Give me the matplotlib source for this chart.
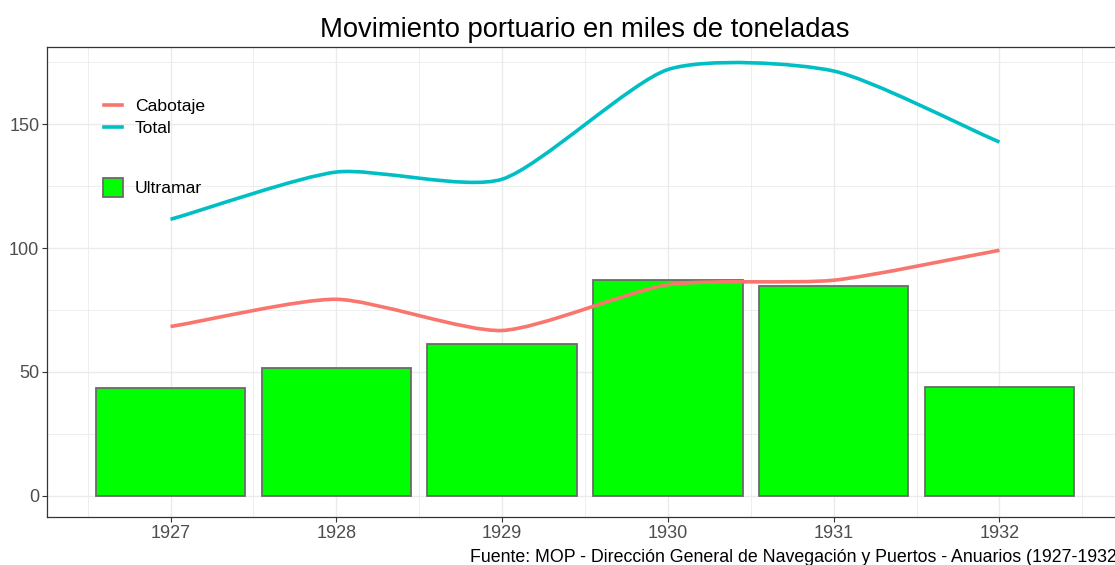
import matplotlib
matplotlib.use("Agg")
import matplotlib.pyplot as plt
from matplotlib.path import Path
from matplotlib.patches import PathPatch, Patch
from matplotlib.lines import Line2D
import numpy as np

plt.rcParams['font.family'] = ['Liberation Sans', 'DejaVu Sans']

# datos (miles de toneladas)
anios = [1927, 1928, 1929, 1930, 1931, 1932]
ultramar = [43.3, 51.4, 61.1, 86.9, 84.5, 43.7]
cabotaje = [68.3, 79.3, 66.7, 85.2, 87.0, 99.1]
total = [111.6, 130.7, 127.8, 172.1, 171.5, 142.8]

col_cab = '#F8766D'
col_tot = '#00BFC4'
W, H = 1115, 565


def curva(ax, xs, ys, color):
    # curva suave por los puntos (Bezier tipo Catmull-Rom, poca tension)
    pts = np.column_stack([np.asarray(xs, float), np.asarray(ys, float)])
    ext = np.vstack([2 * pts[0] - pts[1], pts, 2 * pts[-1] - pts[-2]])
    verts = [tuple(pts[0])]
    codes = [Path.MOVETO]
    for i in range(1, len(ext) - 2):
        p0, p1, p2, p3 = ext[i - 1], ext[i], ext[i + 1], ext[i + 2]
        c1 = p1 + (p2 - p0) / 9
        c2 = p2 - (p3 - p1) / 9
        verts += [tuple(c1), tuple(c2), tuple(p2)]
        codes += [Path.CURVE4] * 3
    ax.add_patch(PathPatch(Path(verts, codes), facecolor='none', edgecolor=color,
                           lw=2.6, capstyle='butt', zorder=4))


fig = plt.figure(figsize=(W / 100, H / 100), dpi=100)
ax = fig.add_axes([47 / W, 48 / H, 1076 / W, 470 / H])

ax.bar(anios, ultramar, width=0.9, color='#00FF00', edgecolor='#6B6B6B', linewidth=1.3, zorder=3)
curva(ax, anios, cabotaje, col_cab)
curva(ax, anios, total, col_tot)

ax.set_xlim(1926.255, 1932.745)
ax.set_ylim(-8.63, 181.2)
ax.set_xticks(anios)
ax.set_xticklabels([str(a) for a in anios])
ax.set_yticks([0, 50, 100, 150])
ax.set_xticks(np.arange(1926.5, 1933, 1.0), minor=True)
ax.set_yticks([25, 75, 125, 175], minor=True)
ax.grid(True, which='major', color='#EBEBEB', lw=1.0, zorder=0)
ax.grid(True, which='minor', color='#EBEBEB', lw=0.6, zorder=0)
ax.set_axisbelow(True)
ax.tick_params(which='major', length=3.5, width=0.8, color='#333333', labelsize=13,
               labelcolor='#4D4D4D', pad=2)
ax.tick_params(which='minor', length=0)
for s in ax.spines.values():
    s.set_color('#333333')
    s.set_linewidth(0.9)

ax.set_title('Movimiento portuario en miles de toneladas', fontsize=19.7, pad=7)

fig.text(1123 / W, 3 / H, 'Fuente: MOP - Dirección General de Navegación y Puertos - Anuarios (1927-1932)',
         ha='right', va='baseline', fontsize=12.8, color='black')

h_lineas = [Line2D([], [], color=col_cab, lw=2.6), Line2D([], [], color=col_tot, lw=2.6)]
leg1 = ax.legend(h_lineas, ['Cabotaje', 'Total'], loc='upper left', frameon=False,
                 bbox_to_anchor=(104 / W, 1 - 99 / H), bbox_transform=fig.transFigure,
                 fontsize=12.6, handlelength=1.0, handletextpad=0.75, labelspacing=0.38,
                 borderpad=0, borderaxespad=0)
ax.add_artist(leg1)
h_bar = [Patch(facecolor='#00FF00', edgecolor='#6B6B6B', linewidth=1.3)]
ax.legend(h_bar, ['Ultramar'], loc='upper left', frameon=False,
          bbox_to_anchor=(103 / W, 1 - 178 / H), bbox_transform=fig.transFigure,
          fontsize=12.6, handlelength=1.14, handleheight=1.3, handletextpad=0.65,
          borderpad=0, borderaxespad=0)

fig.savefig('out.png', dpi=100)
